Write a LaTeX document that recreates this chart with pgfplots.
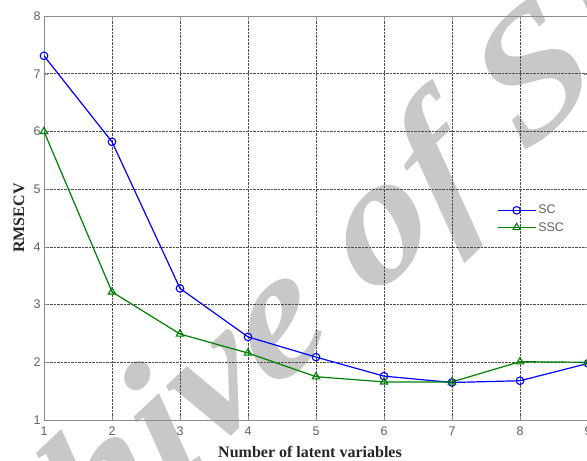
\documentclass[border=0pt]{standalone}
\usepackage{fontspec}
\setmainfont{Liberation Serif}
\newfontfamily\sansf{Liberation Sans}
\usepackage{pgfplots}
\pgfplotsset{compat=1.18}
\definecolor{wm}{HTML}{C8C8C8}
\definecolor{mblue}{RGB}{0,0,255}
\definecolor{mgreen}{RGB}{0,128,0}
\definecolor{tickgray}{HTML}{606060}
\begin{document}
\begin{tikzpicture}[x=1pt,y=1pt]
\useasboundingbox (0,0) rectangle (587,461);
\clip (0,0) rectangle (587,461);
\node[cm={0.71,0.67,-0.5,0.71,(0,0)}, anchor=base west, text=wm, inner sep=0pt,
      font=\rmfamily\bfseries\itshape\fontsize{200}{200}\selectfont] at (-121,-305) {Archive of SID};
\begin{axis}[
  at={(44pt,41pt)}, anchor=south west,
  scale only axis, width=544pt, height=404pt,
  xmin=1, xmax=9, ymin=1, ymax=8,
  xtick={1,...,9}, ytick={1,...,8},
  grid=major,
  major grid style={densely dotted, color=black!70, line width=0.6pt},
  axis line style={color=black!45, line width=0.8pt},
  tick style={color=black!45},
  tick align=inside,
  /pgf/number format/assume math mode=true,
  ticklabel style={font=\sansf\fontsize{12.5}{14}\selectfont, text=tickgray},
  xticklabel style={yshift=-3pt},
  xlabel={\textbf{Number of latent variables}},
  ylabel={\textbf{RMSECV}},
  label style={font=\rmfamily\fontsize{16}{18}\selectfont, text=black!85},
  xlabel style={at={(axis description cs:0.489,-0.079)}, anchor=center},
  ylabel style={at={(axis description cs:-0.046,0.5)}, anchor=center},
  legend style={draw=none, fill=none, at={(axis cs:7.66,4.76)}, anchor=north west,
    font=\sansf\fontsize{12.5}{14}\selectfont, text=tickgray, row sep=3pt, inner sep=0pt},
  legend cell align=left,
  legend image code/.code={\draw[mark repeat=2,mark phase=2,#1] plot coordinates {(0pt,0pt) (19pt,0pt) (38pt,0pt)};},
]
\addplot[color=mblue, line width=1.2pt, mark=o, mark size=3.8pt, mark options={line width=1.1pt}]
  coordinates {(1,7.31) (2,5.82) (3,3.28) (4,2.44) (5,2.09) (6,1.76) (7,1.65) (8,1.68) (9,1.98)};
\addlegendentry{SC}
\addplot[color=mgreen, line width=1.2pt, mark=triangle, mark size=4.2pt, mark options={line width=1.1pt}]
  coordinates {(1,6.0) (2,3.22) (3,2.49) (4,2.16) (5,1.75) (6,1.66) (7,1.66) (8,2.01) (9,2.0)};
\addlegendentry{SSC}
\end{axis}
\end{tikzpicture}
\end{document}
